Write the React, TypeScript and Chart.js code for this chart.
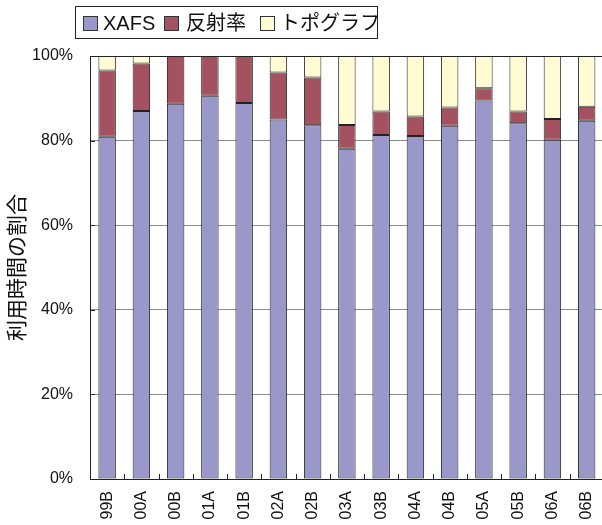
import React, { useEffect, useRef } from "react";
import { Chart, registerables } from "chart.js";

Chart.register(...registerables);

const categories = ["99B", "00A", "00B", "01A", "01B", "02A", "02B", "03A", "03B", "04A", "04B", "05A", "05B", "06A", "06B"];
const xafs = [80.9, 87.0, 88.7, 90.6, 88.9, 85.0, 83.6, 78.1, 81.3, 81.1, 83.5, 89.5, 84.1, 80.2, 84.7];
const reflectivity = [15.7, 11.2, 11.3, 9.4, 11.1, 11.1, 11.3, 5.6, 5.6, 4.6, 4.3, 2.9, 2.8, 4.9, 3.3];
const topography = [3.4, 1.8, 0, 0, 0, 3.9, 5.1, 16.3, 13.1, 14.3, 12.2, 7.6, 13.1, 14.9, 12.0];
const seriesNames = ["XAFS", "反射率", "トポグラフ"];
const yTicks = [0, 20, 40, 60, 80, 100];
const yTitle = "利用時間の割合";

const colors = ["#9a97c9", "#a4525f", "#fffbd2"];
const FONT = '"Liberation Sans", Arial, "Noto Sans CJK JP", sans-serif';

const frame = {
  id: "frame",
  afterDatasetsDraw(chart: any) {
    const { ctx, chartArea: a } = chart;
    const x = chart.scales.x;
    const y = chart.scales.y;
    ctx.save();
    ctx.strokeStyle = "#222";
    ctx.lineWidth = 1;
    // x ticks inside, at category boundaries
    const n = categories.length;
    const half = (x.getPixelForValue(1) - x.getPixelForValue(0)) / 2;
    ctx.beginPath();
    for (let i = 1; i < n; i++) {
      const px = Math.round(x.getPixelForValue(i) - half) + 0.5;
      ctx.moveTo(px, a.bottom);
      ctx.lineTo(px, a.bottom - 5);
    }
    for (const v of yTicks) {
      const py = Math.round(y.getPixelForValue(v)) + 0.5;
      ctx.moveTo(a.left, py);
      ctx.lineTo(a.left + 5, py);
    }
    ctx.stroke();
    ctx.strokeRect(Math.round(a.left) + 0.5, Math.round(a.top) + 0.5, Math.round(a.right - a.left), Math.round(a.bottom - a.top));
    ctx.restore();
  },
};

const legendBox = {
  id: "legendBox",
  afterDraw(chart: any) {
    const { ctx } = chart;
    ctx.save();
    ctx.strokeStyle = "#222";
    ctx.lineWidth = 1;
    ctx.strokeRect(75.5, 6.5, 302, 32);
    const sw = [83, 164, 260];
    const tx = [103, 186, 280];
    ctx.font = "20px " + FONT;
    ctx.textBaseline = "middle";
    ctx.fillStyle = "#111";
    for (let i = 0; i < 3; i++) {
      ctx.fillStyle = colors[i];
      ctx.fillRect(sw[i] + 0.5, 16.5, 14, 14);
      ctx.strokeStyle = "#333";
      ctx.strokeRect(sw[i] + 0.5, 16.5, 14, 14);
      ctx.fillStyle = "#111";
      ctx.fillText(seriesNames[i], tx[i], 24);
    }
    ctx.restore();
  },
};

export default function App() {
  const ref = useRef<HTMLCanvasElement>(null);
  useEffect(() => {
    const ds = [xafs, reflectivity, topography].map((d, i) => ({
      label: seriesNames[i],
      data: d,
      backgroundColor: colors[i],
      borderColor: "#222",
      borderWidth: 1,
      borderSkipped: false as any,
      categoryPercentage: 1,
      barPercentage: 0.51,
    }));
    const chart = new Chart(ref.current!, {
      type: "bar",
      data: { labels: categories, datasets: ds },
      plugins: [frame, legendBox],
      options: {
        animation: false,
        responsive: false,
        layout: { padding: { top: 56, right: 4, left: 0, bottom: 0 } },
        plugins: { legend: { display: false }, tooltip: { enabled: false } },
        scales: {
          x: {
            stacked: true,
            grid: { display: false },
            border: { display: false },
            ticks: {
              color: "#111",
              font: { family: FONT, size: 16 },
              minRotation: 90,
              maxRotation: 90,
              padding: 4,
              autoSkip: false,
            },
            afterFit(s: any) { s.height = 46; },
          },
          y: {
            stacked: true,
            min: 0,
            max: 100,
            grid: { color: "#8c8c8c", lineWidth: 1, drawTicks: false },
            border: { display: false },
            ticks: {
              stepSize: 20,
              color: "#111",
              padding: 17,
              font: { family: FONT, size: 16 },
              callback: (v: any) => v + "%",
            },
            title: {
              display: true,
              text: yTitle,
              color: "#111",
              font: { family: FONT, size: 21 },
              padding: { top: 6, bottom: 0 },
            },
            afterFit(s: any) { s.width = 90; },
          },
        },
      },
    });
    return () => chart.destroy();
  }, []);
  return (
    <div style={{ position: "fixed", left: 0, top: 0, width: 610, height: 525, background: "#fff" }}>
      <canvas ref={ref} width={610} height={525} style={{ width: 610, height: 525 }} />
    </div>
  );
}
